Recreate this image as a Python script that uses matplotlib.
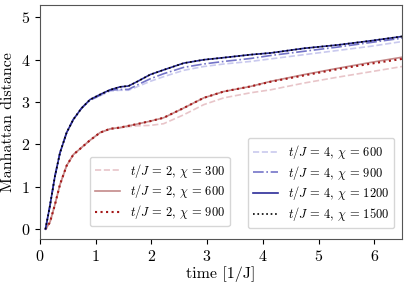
import numpy as np
import matplotlib
matplotlib.use("Agg")
import matplotlib.pyplot as plt

plt.rcParams["font.family"] = "serif"
plt.rcParams["font.serif"] = ["cmr10"]
plt.rcParams["mathtext.fontset"] = "cm"
plt.rcParams["axes.formatter.use_mathtext"] = True
plt.rcParams["font.size"] = 11.5

# time grid
time = [0.1, 0.18, 0.27, 0.36, 0.48, 0.6, 0.75, 0.9, 1.08, 1.26, 1.44, 1.59,
        1.74, 1.98, 2.22, 2.58, 2.94, 3.3, 3.78, 4.14, 4.74, 5.35, 5.95, 6.5]

# t/J = 2
red_300 = [0, 0.16, 0.58, 1.05, 1.5, 1.76, 1.93, 2.1, 2.28, 2.36, 2.39, 2.42,
           2.44, 2.45, 2.49, 2.7, 2.94, 3.1, 3.22, 3.29, 3.45, 3.59, 3.72, 3.84]
red_600 = [0, 0.16, 0.58, 1.05, 1.5, 1.76, 1.93, 2.1, 2.28, 2.37, 2.4, 2.44,
           2.48, 2.55, 2.63, 2.86, 3.1, 3.25, 3.37, 3.49, 3.65, 3.8, 3.94, 4.06]
red_900 = [0, 0.16, 0.58, 1.05, 1.5, 1.76, 1.93, 2.1, 2.28, 2.37, 2.4, 2.44,
           2.48, 2.55, 2.63, 2.86, 3.1, 3.25, 3.37, 3.48, 3.63, 3.78, 3.91, 4.02]

# t/J = 4
blue_600 = [0, 0.55, 1.25, 1.8, 2.28, 2.59, 2.86, 3.04, 3.15, 3.26, 3.28, 3.28,
            3.36, 3.49, 3.6, 3.75, 3.84, 3.9, 3.96, 4.02, 4.12, 4.22, 4.32, 4.43]
blue_900 = [0, 0.55, 1.25, 1.8, 2.28, 2.59, 2.86, 3.05, 3.16, 3.28, 3.3, 3.3,
            3.4, 3.55, 3.67, 3.82, 3.9, 3.96, 4.03, 4.1, 4.2, 4.3, 4.41, 4.51]
blue_1200 = [0, 0.55, 1.25, 1.8, 2.28, 2.59, 2.86, 3.06, 3.18, 3.29, 3.36, 3.38,
             3.48, 3.65, 3.76, 3.92, 4.0, 4.05, 4.12, 4.16, 4.27, 4.35, 4.45, 4.55]
blue_1500 = blue_1200


def lab(t, chi):
    return r"$t/J\,=\,%d,\,\chi\,=\,%d$" % (t, chi)


fig = plt.figure(figsize=(4.07, 2.84), dpi=100)
ax = fig.add_axes([0.098, 0.158, 0.89, 0.824])

lw = 1.2
l1, = ax.plot(time, red_300, ls="--", color="#e8c5c9", lw=lw, label=lab(2, 300))
l2, = ax.plot(time, red_600, ls="-", color="#c48a8a", lw=lw, label=lab(2, 600))
l3, = ax.plot(time, red_900, ls=":", color="#a51818", lw=lw + 0.3,
              label=lab(2, 900))
b1, = ax.plot(time, blue_600, ls="--", color="#c9c9ee", lw=lw, label=lab(4, 600))
b2, = ax.plot(time, blue_900, ls="-.", color="#7474c8", lw=lw, label=lab(4, 900))
b3, = ax.plot(time, blue_1200, ls="-", color="#2c2c98", lw=lw,
              label=lab(4, 1200))
b4, = ax.plot(time, blue_1500, ls=":", color="black", lw=lw, label=lab(4, 1500))

ax.set_xlim(0, 6.5)
ax.set_ylim(-0.235, 5.29)
ax.set_xticks([0, 1, 2, 3, 4, 5, 6])
ax.set_yticks([0, 1, 2, 3, 4, 5])
ax.set_xlabel("time [1/J]", labelpad=2)
ax.set_ylabel("Manhattan distance", labelpad=4)

for s in ax.spines.values():
    s.set_color("#555555")

leg1 = ax.legend(handles=[l1, l2, l3], loc="lower left",
                 bbox_to_anchor=(0.138, 0.056), borderaxespad=0,
                 fontsize=9, labelspacing=0.22)
ax.add_artist(leg1)
ax.legend(handles=[b1, b2, b3, b4], loc="lower right",
          bbox_to_anchor=(0.978, 0.047), borderaxespad=0,
          fontsize=9, labelspacing=0.22)

fig.savefig("out.png", dpi=100)
